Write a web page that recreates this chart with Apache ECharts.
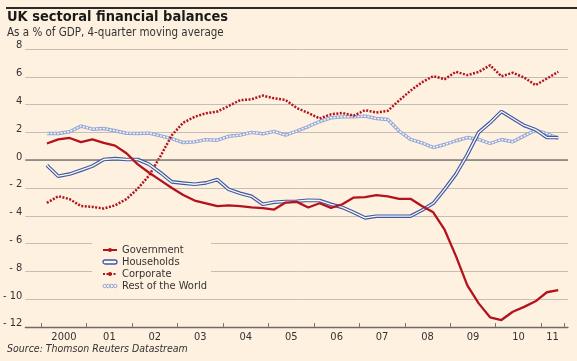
<!DOCTYPE html>
<html><head><meta charset="utf-8">
<script src="https://cdn.jsdelivr.net/npm/echarts@6/dist/echarts.min.js"></script>
<style>html,body{margin:0;padding:0;background:#fff1e0}#c{width:577px;height:361px}</style>
</head><body><div id="c"></div>
<script>
const quarters = [
 '2000 Q1','2000 Q2','2000 Q3','2000 Q4','2001 Q1','2001 Q2','2001 Q3','2001 Q4',
 '2002 Q1','2002 Q2','2002 Q3','2002 Q4','2003 Q1','2003 Q2','2003 Q3','2003 Q4',
 '2004 Q1','2004 Q2','2004 Q3','2004 Q4','2005 Q1','2005 Q2','2005 Q3','2005 Q4',
 '2006 Q1','2006 Q2','2006 Q3','2006 Q4','2007 Q1','2007 Q2','2007 Q3','2007 Q4',
 '2008 Q1','2008 Q2','2008 Q3','2008 Q4','2009 Q1','2009 Q2','2009 Q3','2009 Q4',
 '2010 Q1','2010 Q2','2010 Q3','2010 Q4','2011 Q1','2011 Q2'];
const government = [1.2,1.5,1.6,1.3,1.5,1.25,1.05,0.5,-0.3,-0.9,-1.45,-2.0,-2.5,-2.9,-3.1,-3.3,
 -3.25,-3.3,-3.4,-3.45,-3.55,-3.05,-3.0,-3.4,-3.1,-3.43,-3.17,-2.69,-2.66,-2.52,-2.6,-2.78,
 -2.78,-3.3,-3.75,-5.0,-6.9,-9.0,-10.3,-11.3,-11.5,-10.9,-10.55,-10.15,-9.5,-9.35];
const households = [-0.36,-1.15,-1.0,-0.72,-0.43,0.05,0.12,0.05,0.05,-0.3,-0.9,-1.56,-1.65,-1.73,-1.63,-1.39,
 -2.1,-2.38,-2.6,-3.17,-3.02,-2.97,-2.95,-2.88,-2.9,-3.17,-3.4,-3.75,-4.15,-4.03,-4.03,-4.03,
 -4.03,-3.6,-3.1,-2.1,-1.0,0.4,2.0,2.7,3.5,3.0,2.5,2.2,1.63,1.63];
const corporate = [-3.07,-2.59,-2.8,-3.3,-3.36,-3.48,-3.25,-2.8,-2.04,-1.1,0.3,1.8,2.7,3.12,3.38,3.5,
 3.9,4.32,4.38,4.65,4.45,4.33,3.75,3.4,3.0,3.3,3.4,3.2,3.6,3.43,3.55,4.3,
 5.0,5.6,6.05,5.83,6.36,6.12,6.35,6.83,6.04,6.29,5.95,5.4,5.87,6.36];
const restOfWorld = [1.92,1.92,2.05,2.45,2.23,2.28,2.12,1.94,1.92,1.95,1.75,1.55,1.27,1.32,1.48,1.44,
 1.72,1.8,2.0,1.9,2.07,1.8,2.1,2.42,2.78,3.05,3.12,3.12,3.17,3.0,2.93,2.1,
 1.5,1.25,0.91,1.13,1.4,1.63,1.5,1.2,1.49,1.33,1.75,2.16,1.92,1.56];
const yearTicks = [2000,2001,2002,2003,2004,2005,2006,2007,2008,2009,2010,2011,2011.5];
const yearLabelPos = [2000.5,2001.5,2002.5,2003.5,2004.5,2005.5,2006.5,2007.5,2008.5,2009.5,2010.5,2011.25];
const yTicks = [-12,-10,-8,-6,-4,-2,0,2,4,6,8];

function qpos(s){ const y=parseInt(s.slice(0,4)); const q=parseInt(s.slice(6)); return y+(q-0.5)/4; }
function pairs(vals){ return vals.map((v,i)=>[qpos(quarters[i]), v]); }

const FONT = '"Liberation Sans Narrow","Arial Narrow","DejaVu Sans Condensed",sans-serif';
const BG = '#fff1e0';
const RED = '#b3131d';
const BLUE = '#3b59a6';
const LBLUE = '#94a8da';

const chart = echarts.init(document.getElementById('c'), null, {renderer:'canvas'});
chart.setOption({
  backgroundColor: BG,
  animation: false,
  grid: {left:24, right:9, top:49, bottom:34, containLabel:false},
  graphic: [
    {type:'rect', shape:{x:6,y:7,width:571,height:2}, style:{fill:'#2b2b2b'}},
    {type:'text', left:7, top:10, style:{text:'UK sectoral financial balances', font:'bold 14.5px '+FONT, fill:'#1a1a1a'}},
    {type:'text', left:7, top:27, style:{text:'As a % of GDP, 4-quarter moving average', font:'11.5px '+FONT, fill:'#333'}},
    {type:'text', left:7, top:344, style:{text:'Source: Thomson Reuters Datastream', font:'italic 10.5px '+FONT, fill:'#333'}}
  ],
  xAxis: {
    type:'value', min:1999.65, max:2011.59,
    splitLine:{show:false},
    axisLine:{show:true, onZero:false, lineStyle:{color:'#6e6b68', width:1.3}},
    axisTick:{show:true, inside:true, length:4, customValues: yearTicks, lineStyle:{color:'#777', width:1}},
    axisLabel:{customValues: yearLabelPos, margin:5, color:'#333', fontFamily:FONT, fontSize:11,
      formatter: v => { const y=Math.floor(v); return y===2000 ? '2000' : String(y).slice(2); }}
  },
  yAxis: {
    type:'value', min:-12, max:8, interval:2,
    axisLine:{show:false}, axisTick:{show:false},
    splitLine:{show:true, lineStyle:{color:'#c4beb6', width:1}},
    axisLabel:{margin:3, color:'#333', fontFamily:FONT, fontSize:11, verticalAlign:'bottom', lineHeight:7,
      formatter: v => v<0 ? '- '+Math.abs(v) : String(v)}
  },
  legend: {
    orient:'vertical', left:92, top:241, itemWidth:14, itemHeight:5, itemGap:0,
    padding:[3,4,4,10], backgroundColor:BG,
    textStyle:{fontFamily:FONT, fontSize:11, color:'#333', lineHeight:12},
    data:[
      {name:'Government'},
      {name:'Households', icon:'path://M2,0 H12 A2,2 0 0 1 12,4 H2 A2,2 0 0 1 2,0 Z', itemStyle:{color:'#fff8ef', borderColor:BLUE, borderWidth:1.3}},
      {name:'Corporate'},
      {name:'Rest of the World', icon:'path://M0,2 A2,2 0 1 0 4,2 A2,2 0 1 0 0,2 Z M4,2 A2,2 0 1 0 8,2 A2,2 0 1 0 4,2 Z M8,2 A2,2 0 1 0 12,2 A2,2 0 1 0 8,2 Z M12,2 A2,2 0 1 0 16,2 A2,2 0 1 0 12,2 Z', itemStyle:{color:'rgba(0,0,0,0)', borderColor:LBLUE, borderWidth:1}}
    ]
  },
  series: [
    {name:'zero', type:'line', data:[], z:1, silent:true,
      markLine:{silent:true, symbol:'none', label:{show:false}, lineStyle:{color:'#7f7b77', width:1.6, type:'solid'}, data:[{yAxis:0}]}},
    {name:'Rest of the World', type:'line', data:pairs(restOfWorld), symbol:'none', z:3,
      lineStyle:{color:LBLUE, width:3.4}, itemStyle:{color:LBLUE}},
    {name:'RoW inner', type:'line', data:pairs(restOfWorld), symbol:'none', z:3, silent:true,
      lineStyle:{color:'#fff8ef', width:1.5, type:[2,1.4]}},
    {name:'Corporate', type:'line', data:pairs(corporate), symbol:'none', z:4,
      lineStyle:{color:RED, width:2.5, type:[2,1.5]}, itemStyle:{color:RED}},
    {name:'Households', type:'line', data:pairs(households), symbol:'none', z:5,
      lineStyle:{color:BLUE, width:3.6}, itemStyle:{color:BLUE}},
    {name:'HH inner', type:'line', data:pairs(households), symbol:'none', z:5, silent:true,
      lineStyle:{color:'#fff8ef', width:1.3}},
    {name:'Government', type:'line', data:pairs(government), symbol:'none', z:6,
      lineStyle:{color:RED, width:2.3}, itemStyle:{color:RED}}
  ]
});
</script></body></html>
